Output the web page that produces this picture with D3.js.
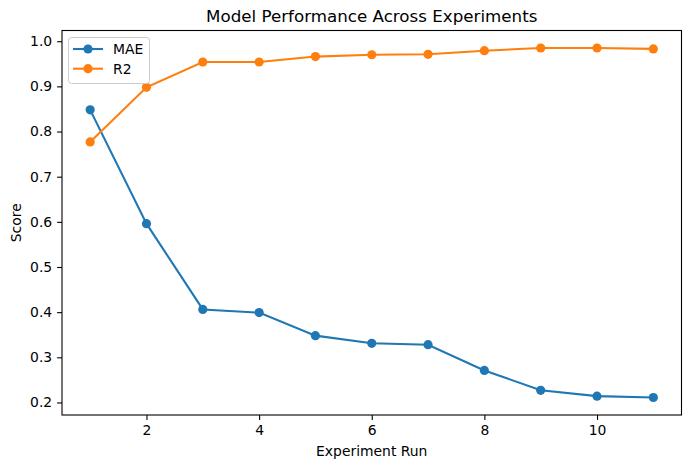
<!DOCTYPE html>
<html><head><meta charset="utf-8">
<script src="https://cdn.jsdelivr.net/npm/d3@7"></script>
<style>body{margin:0;background:#fff}svg{display:block}text{font-family:"DejaVu Sans",sans-serif}</style>
</head><body>
<svg id="chart" width="691" height="468"></svg>
<script>
const runs = [1,2,3,4,5,6,7,8,9,10,11];
const maeValues = [0.848,0.596,0.406,0.399,0.348,0.331,0.328,0.271,0.227,0.214,0.211];
const r2Values = [0.777,0.898,0.954,0.954,0.966,0.970,0.971,0.979,0.985,0.985,0.983];
const xTicks = [2,4,6,8,10];
const yTicks = [0.2,0.3,0.4,0.5,0.6,0.7,0.8,0.9,1.0];
const seriesNames = ["MAE","R2"];
const colors = ["#1f77b4","#ff7f0e"];

const svg = d3.select("#chart");
const L=62, R=681.5, T=30.5, B=415;
const x = d3.scaleLinear().domain([0.5,11.5]).range([L,R]);
const y = d3.scaleLinear().domain([0.17225,1.02375]).range([B,T]);

const series = [maeValues, r2Values];
const line = d3.line().x((d,i)=>x(runs[i])).y(d=>y(d));
series.forEach((vals,si)=>{
  const g = svg.append("g");
  g.append("path").attr("d",line(vals)).attr("fill","none").attr("stroke",colors[si]).attr("stroke-width",2.1);
  g.selectAll("circle").data(vals).enter().append("circle")
    .attr("cx",(d,i)=>x(runs[i])).attr("cy",d=>y(d)).attr("r",4.6).attr("fill",colors[si]);
});

const xAxis = svg.append("g").attr("transform",`translate(0,${B})`)
  .call(d3.axisBottom(x).tickValues(xTicks).tickSize(4.9).tickPadding(4.9).tickFormat(d3.format("d")));
const yAxis = svg.append("g").attr("transform",`translate(${L},0)`)
  .call(d3.axisLeft(y).tickValues(yTicks).tickSize(4.9).tickPadding(4.9).tickFormat(d3.format(".1f")));
[xAxis,yAxis].forEach(a=>{
  a.select(".domain").remove();
  a.selectAll("line").attr("stroke","#000").attr("stroke-width",1.1);
  a.selectAll("text").attr("font-size","13.9px").attr("fill","#000").style("font-family","DejaVu Sans");
});
svg.append("rect").attr("x",L).attr("y",T).attr("width",R-L).attr("height",B-T)
  .attr("fill","none").attr("stroke","#000").attr("stroke-width",1.1);

svg.append("text").attr("x",(L+R)/2).attr("y",22).attr("text-anchor","middle")
  .attr("font-size","16.7px").text("Model Performance Across Experiments");
svg.append("text").attr("x",(L+R)/2).attr("y",456).attr("text-anchor","middle")
  .attr("font-size","13.9px").text("Experiment Run");
svg.append("text").attr("transform",`translate(21,${(T+B)/2}) rotate(-90)`).attr("text-anchor","middle")
  .attr("font-size","13.9px").text("Score");

// legend
const lg = svg.append("g");
lg.append("rect").attr("x",68.5).attr("y",37.5).attr("width",81).attr("height",46).attr("rx",3)
  .attr("fill","#fff").attr("fill-opacity",0.8).attr("stroke","#cccccc").attr("stroke-width",1);
seriesNames.forEach((n,i)=>{
  const yy = 49 + i*19.7;
  lg.append("line").attr("x1",73).attr("x2",103).attr("y1",yy).attr("y2",yy).attr("stroke",colors[i]).attr("stroke-width",2.1);
  lg.append("circle").attr("cx",88).attr("cy",yy).attr("r",4.6).attr("fill",colors[i]);
  lg.append("text").attr("x",113).attr("y",yy+5).attr("font-size","13.9px").text(n);
});
</script>
</body></html>
